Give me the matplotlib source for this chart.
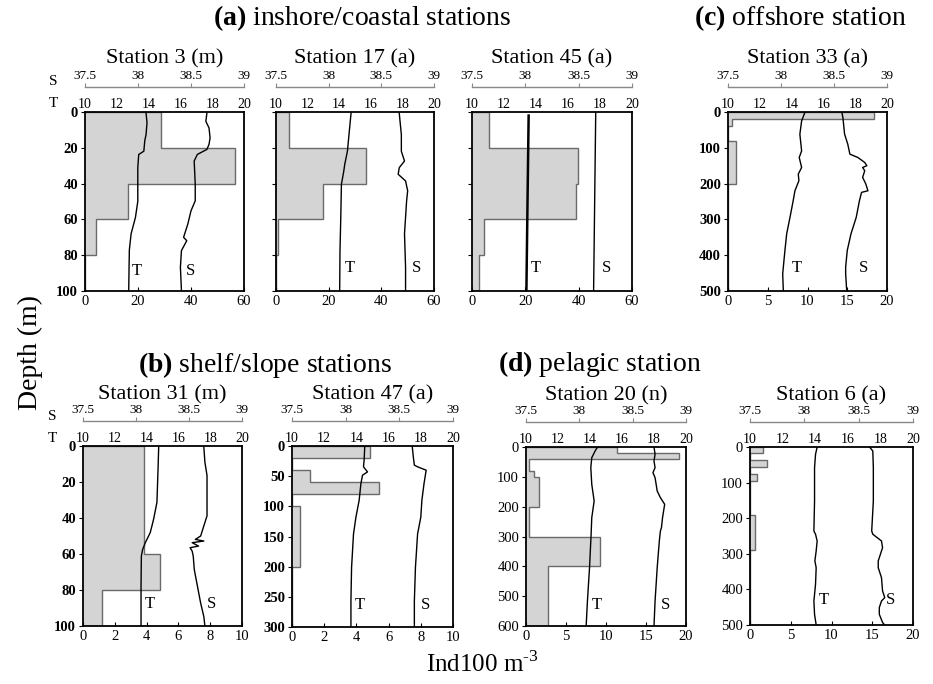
import matplotlib
matplotlib.use("Agg")
import matplotlib.pyplot as plt

plt.rcParams['font.family'] = ['Liberation Serif', 'DejaVu Serif']
plt.rcParams['mathtext.fontset'] = 'custom'
plt.rcParams['mathtext.rm'] = 'Liberation Serif'
plt.rcParams['mathtext.bf'] = 'Liberation Serif:bold'

W, H = 933, 684

# ---- data ----
# Station 3 (m)
st3_edges = [0, 20, 40, 60, 80, 100]
st3_ind = [28.8, 56.5, 16.2, 4.0, 0]
st3_t_depth = [0.6, 6, 12.6, 16, 21.9, 23.7, 31, 50, 59, 68, 77, 87, 100]
st3_t = [13.84, 13.90, 13.84, 13.76, 13.70, 13.38, 13.32, 13.32, 13.17, 12.90, 12.79, 12.77, 12.75]
st3_s_depth = [0.6, 5.2, 8.9, 14.4, 18.1, 20.9, 23.7, 27.4, 40.4, 49.6, 55.2, 62.6, 70.0, 71.9, 77.4, 86.7, 100]
st3_s = [38.65, 38.64, 38.67, 38.68, 38.67, 38.65, 38.56, 38.53, 38.54, 38.54, 38.50, 38.47, 38.43, 38.46, 38.41, 38.40, 38.41]

# Station 17 (a)
st17_edges = [0, 20, 40, 60, 80, 100]
st17_ind = [5.0, 34.3, 18.0, 0.6, 0]
st17_t_depth = [0.6, 12.6, 21.9, 29.3, 33, 40.4, 58.9, 77.4, 100]
st17_t = [14.75, 14.62, 14.52, 14.35, 14.29, 14.14, 14.10, 14.05, 14.03]
st17_s_depth = [0.6, 12.6, 21.9, 27.4, 31.1, 34.8, 38.5, 44, 49.6, 68.1, 86.7, 100]
st17_s = [38.67, 38.69, 38.69, 38.72, 38.67, 38.66, 38.73, 38.75, 38.74, 38.72, 38.73, 38.73]

# Station 45 (a)
st45_edges = [0, 20, 40, 60, 80, 100]
st45_ind = [6.5, 39.6, 39.0, 4.4, 2.75]
st45_t_depth = [2, 50, 100]
st45_t = [13.54, 13.47, 13.40]
st45_s_depth = [0, 50, 100]
st45_s = [38.66, 38.65, 38.64]

# Station 33 (a)
st33_edges = [0, 20, 40, 80, 200, 500]
st33_ind = [18.4, 0.5, 0, 1.0, 0]
st33_t_depth = [1.9, 25, 62, 108.5, 127, 155, 173.5, 192, 220, 247.7, 294, 340.5, 387, 433, 452, 500]
st33_t = [14.83, 14.63, 14.52, 14.63, 14.48, 14.63, 14.42, 14.46, 14.21, 14.10, 13.90, 13.69, 13.58, 13.48, 13.44, 13.48]
st33_s_depth = [1.9, 15.8, 62, 90, 117.8, 127, 141, 150, 155, 164, 182.7, 201, 220, 224.5, 247.7, 294, 340.5, 387, 433, 452, 500]
st33_s = [38.575, 38.584, 38.60, 38.63, 38.65, 38.725, 38.79, 38.81, 38.77, 38.79, 38.77, 38.80, 38.82, 38.76, 38.74, 38.71, 38.66, 38.625, 38.61, 38.61, 38.62]

# Station 31 (m)
st31_edges = [0, 60, 80, 100]
st31_ind = [3.86, 4.86, 1.2]
st31_t_depth = [0.6, 12.7, 31.3, 40.7, 48.1, 53.7, 57.5, 61.2, 78, 100]
st31_t = [14.76, 14.72, 14.65, 14.44, 14.23, 13.92, 13.75, 13.67, 13.65, 13.65]
st31_s_depth = [0.6, 9, 16.4, 31.3, 38.8, 44.4, 50, 51.9, 52.8, 53.7, 55.6, 56.5, 58.4, 61.2, 68.7, 78, 87.3, 94.8, 100]
st31_s = [38.64, 38.65, 38.67, 38.67, 38.67, 38.64, 38.61, 38.56, 38.64, 38.53, 38.59, 38.51, 38.53, 38.54, 38.55, 38.58, 38.61, 38.64, 38.65]

# Station 47 (a)
st47_edges = [0, 20, 40, 60, 80, 100, 200, 300]
st47_ind = [4.86, 0, 1.14, 5.41, 0, 0.52, 0]
st47_t_depth = [0, 23.4, 34.5, 42.9, 48.4, 62.3, 90.2, 118, 145.8, 173.7, 201.5, 257, 300]
st47_t = [14.52, 14.48, 14.44, 14.69, 14.38, 14.28, 14.17, 13.97, 13.82, 13.76, 13.70, 13.66, 13.66]
st47_s_depth = [0, 17.8, 31.7, 34.5, 37.3, 40.1, 62.3, 90.2, 118, 145.8, 173.7, 201.5, 257, 300]
st47_s = [38.62, 38.63, 38.64, 38.67, 38.71, 38.75, 38.73, 38.71, 38.70, 38.67, 38.66, 38.65, 38.64, 38.64]

# Station 20 (n)
st20_edges = [0, 20, 40, 80, 100, 200, 300, 400, 600]
st20_ind = [11.4, 19.1, 0.42, 1.04, 1.67, 0.42, 9.3, 2.8]
st20_t_depth = [0, 13.4, 35.8, 69.3, 125, 181, 237, 292.7, 404.5, 516, 600]
st20_t = [14.47, 14.32, 14.11, 14.05, 14.11, 14.26, 14.11, 14.07, 13.97, 13.84, 13.76]
st20_s_depth = [0, 24.6, 46.9, 69.3, 86, 102.8, 147.5, 169.8, 192, 237, 270, 281.6, 315, 404.5, 516, 600]
st20_s = [38.70, 38.71, 38.70, 38.71, 38.69, 38.71, 38.73, 38.76, 38.80, 38.78, 38.77, 38.76, 38.75, 38.73, 38.71, 38.70]

# Station 6 (a)
st6_edges = [0, 17, 37, 56, 75, 95, 190, 290, 500]
st6_ind = [1.65, 0, 2.06, 0, 0.82, 0, 0.62, 0]
st6_t_depth = [0, 20.6, 58, 151.7, 236, 245, 264, 292, 320, 339, 386, 432.6, 470, 500]
st6_t = [14.12, 14.02, 13.96, 13.96, 13.92, 14.02, 14.12, 14.06, 13.98, 14.06, 14.02, 13.92, 13.96, 14.06]
st6_s_depth = [0, 11.2, 58, 151.7, 236, 245, 264, 282.8, 320, 339, 367, 404.5, 423, 432.6, 451, 470, 493, 500]
st6_s = [38.60, 38.63, 38.635, 38.635, 38.62, 38.63, 38.71, 38.72, 38.68, 38.68, 38.71, 38.72, 38.74, 38.71, 38.69, 38.69, 38.72, 38.74]

t_ticks = [10, 12, 14, 16, 18, 20]
s_ticks = [37.5, 38, 38.5, 39]
s_labels = ['37.5', '38', '38.5', '39']

fig = plt.figure(figsize=(W / 100, H / 100), dpi=100)


def ftext(x, y, s, **kw):
    fig.text(x / W, 1 - y / H, s, **kw)


def draw_station(px, title, title_y, edges, ind, xmax, xstep, dmax, dstep,
                 t_d, t_v, s_d, s_v, t_pos, s_pos, ylab=True, ybold=False, t_lw=1.0):
    l, t, r, b = px
    ax = fig.add_axes([l / W, 1 - b / H, (r - l) / W, (b - t) / H])
    ax.stairs(ind, edges, orientation='horizontal', fill=True,
              facecolor='#d4d4d4', edgecolor='#6a6a6a', linewidth=1.0)
    ax.set_xlim(0, xmax)
    ax.set_ylim(dmax, 0)
    ax.set_xticks(range(0, xmax + 1, xstep))
    ax.set_yticks(range(0, dmax + 1, dstep))
    ax.tick_params(axis='x', direction='in', length=3, labelsize=10.5, pad=3)
    ax.tick_params(axis='y', direction='out', length=3, labelsize=10.5, pad=2,
                   labelleft=ylab)
    if ybold:
        for lab in ax.get_yticklabels():
            lab.set_fontweight('bold')
    for sp in ax.spines.values():
        sp.set_linewidth(1.3)

    # temperature scale sits on the frame top
    axT = ax.twiny()
    axT.set_xlim(10, 20)
    axT.set_xticks(t_ticks)
    axT.tick_params(axis='x', length=0, pad=1, labelsize=10)
    for sp in axT.spines.values():
        sp.set_visible(False)
    axT.plot(t_v, t_d, color='black', lw=t_lw)

    # salinity scale lifted above it
    axS = ax.twiny()
    axS.set_xlim(37.5, 39)
    axS.set_xticks(s_ticks)
    axS.set_xticklabels(s_labels)
    for name, sp in axS.spines.items():
        sp.set_visible(name == 'top')
    axS.spines['top'].set_position(('outward', 18))
    axS.spines['top'].set_color('#888888')
    axS.spines['top'].set_linewidth(1.0)
    axS.tick_params(axis='x', direction='out', length=3, color='#888888',
                    pad=0.5, labelsize=9.5)
    axS.plot(s_v, s_d, color='black', lw=1.0)

    ax.text(t_pos[0], t_pos[1], 'T', transform=ax.transAxes, fontsize=12,
            ha='center', va='center')
    ax.text(s_pos[0], s_pos[1], 'S', transform=ax.transAxes, fontsize=12,
            ha='center', va='center')
    ftext((l + r) / 2, title_y, title, fontsize=16, ha='center', va='baseline')
    return ax


draw_station((85, 112, 244, 291), 'Station 3 (m)', 63, st3_edges, st3_ind, 60, 20, 100, 20,
             st3_t_depth, st3_t, st3_s_depth, st3_s, (0.325, 0.11), (0.665, 0.11), ybold=True)
draw_station((276, 112, 434, 291), 'Station 17 (a)', 63, st17_edges, st17_ind, 60, 20, 100, 20,
             st17_t_depth, st17_t, st17_s_depth, st17_s, (0.47, 0.13), (0.89, 0.13), ylab=False)
draw_station((472, 112, 632, 291), 'Station 45 (a)', 63, st45_edges, st45_ind, 60, 20, 100, 20,
             st45_t_depth, st45_t, st45_s_depth, st45_s, (0.40, 0.13), (0.84, 0.13), ylab=False, t_lw=1.8)
draw_station((728, 112, 887, 291), 'Station 33 (a)', 63, st33_edges, st33_ind, 20, 5, 500, 100,
             st33_t_depth, st33_t, st33_s_depth, st33_s, (0.43, 0.13), (0.855, 0.13), ybold=True)
draw_station((83, 446, 242, 626), 'Station 31 (m)', 399, st31_edges, st31_ind, 10, 2, 100, 20,
             st31_t_depth, st31_t, st31_s_depth, st31_s, (0.42, 0.12), (0.81, 0.12), ybold=True)
draw_station((292, 446, 453, 627), 'Station 47 (a)', 399, st47_edges, st47_ind, 10, 2, 300, 50,
             st47_t_depth, st47_t, st47_s_depth, st47_s, (0.42, 0.12), (0.83, 0.12), ybold=True)
draw_station((526, 447, 686, 626), 'Station 20 (n)', 400, st20_edges, st20_ind, 20, 5, 600, 100,
             st20_t_depth, st20_t, st20_s_depth, st20_s, (0.44, 0.12), (0.875, 0.12))
draw_station((750, 447, 913, 625), 'Station 6 (a)', 400, st6_edges, st6_ind, 20, 5, 500, 100,
             st6_t_depth, st6_t, st6_s_depth, st6_s, (0.45, 0.14), (0.86, 0.14))

# group titles
ftext(362, 25, r'$\mathbf{(a)}$ inshore/coastal stations', fontsize=20, ha='center', va='baseline')
ftext(800, 25, r'$\mathbf{(c)}$ offshore station', fontsize=20, ha='center', va='baseline')
ftext(265, 372, r'$\mathbf{(b)}$ shelf/slope stations', fontsize=20, ha='center', va='baseline')
ftext(600, 371, r'$\mathbf{(d)}$ pelagic station', fontsize=20, ha='center', va='baseline')

# S / T scale keys
ftext(53, 85, 'S', fontsize=11, ha='center', va='baseline')
ftext(53, 107, 'T', fontsize=11, ha='center', va='baseline')
ftext(52, 420, 'S', fontsize=11, ha='center', va='baseline')
ftext(52, 442, 'T', fontsize=11, ha='center', va='baseline')

ftext(30, 352, 'Depth (m)', fontsize=20, rotation=90, ha='center', va='center')
ftext(482, 664, r'Ind100 m$^{\text{-3}}$', fontsize=18, ha='center', va='center')

fig.savefig('out.png', dpi=100)
